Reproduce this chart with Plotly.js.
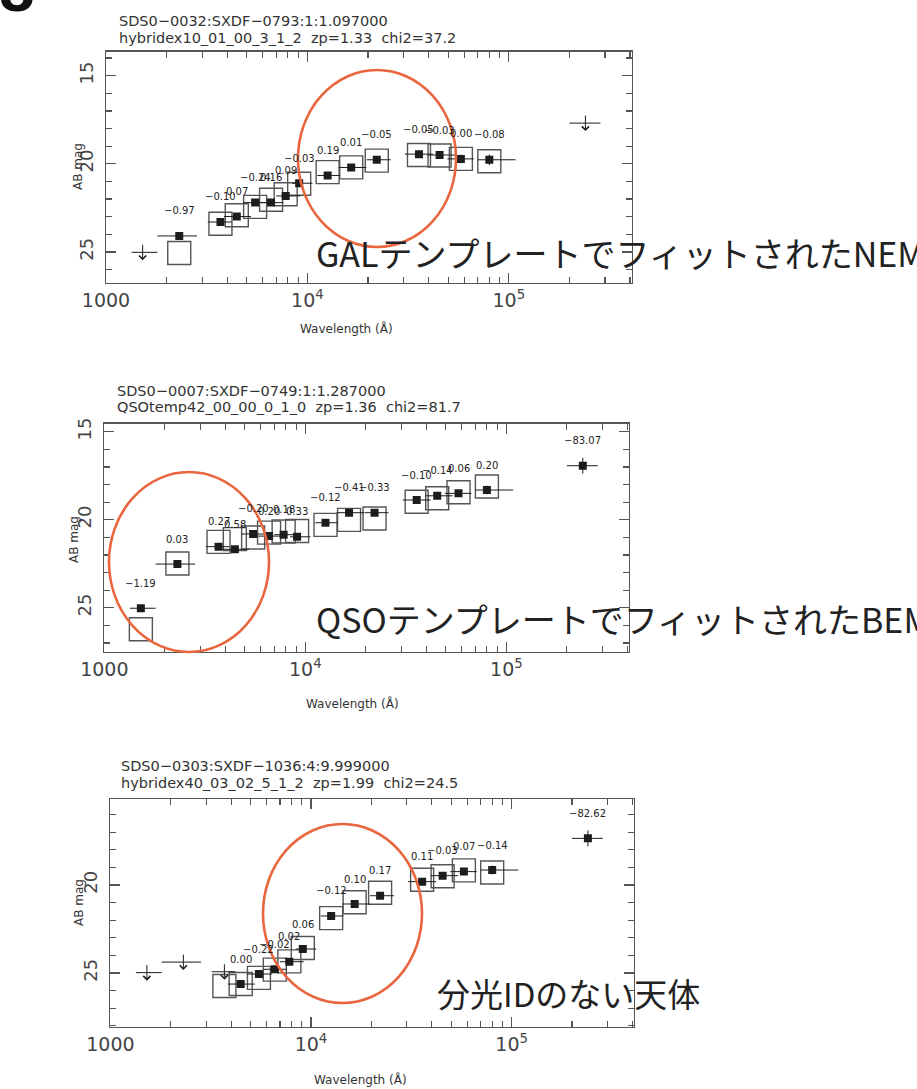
<!DOCTYPE html>
<html>
<head>
<meta charset="utf-8">
<script src="https://cdn.plot.ly/plotly-3.0.1.min.js"></script>
<style>
  html, body { margin: 0; padding: 0; background: #fff; }
  #chart { width: 917px; height: 1089px; }
</style>
</head>
<body>
<div id="chart"></div>
<script>
// Photometric bands shared by all three objects (central wavelength and filter extent, in Angstrom)
const bands    = ['FUV', 'NUV', 'u', 'B', 'V', 'Rc', "i'", "z'", 'J', 'H', 'K', 'IRAC1', 'IRAC2', 'IRAC3', 'IRAC4', 'MIPS24'];
const lambda   = [1520, 2310, 3700, 4460, 5500, 6600, 7800, 9100, 12600, 16500, 22100, 35800, 45300, 57800, 80000, 240000];
const lambdaLo = [1340, 1800, 3200, 3850, 4800, 5800, 7000, 8400, 11200, 14300, 19700, 30500, 39500, 49500, 70000, 200000];
const lambdaHi = [1800, 2830, 4200, 5250, 6400, 7600, 9200, 10600, 14500, 19600, 25900, 42000, 54000, 67000, 108000, 285000];

// Object 1: SDS0-0032 (galaxy template fit)
const obs1   = [null, 24.09, 23.30, 22.99, 22.20, 22.20, 21.82, 21.10, 20.66, 20.21, 19.77, 19.45, 19.50, 19.72, 19.77, null];
const err1   = [null, 0.15, 0.12, 0.10, 0.10, 0.10, 0.10, 0.10, 0.10, 0.10, 0.10, 0.20, 0.20, 0.25, 0.30, null];
const limit1 = [25.02, null, null, null, null, null, null, null, null, null, null, null, null, null, null, 17.69];
const model1 = [null, 25.06, 23.40, 22.92, 22.44, 22.04, 21.73, 21.13, 20.47, 20.20, 19.82, 19.50, 19.53, 19.72, 19.85, null];
const resid1 = [null, '−0.97', '−0.10', '0.07', '−0.24', '0.16', '0.09', '−0.03', '0.19', '0.01', '−0.05', '−0.05', '−0.03', '0.00', '−0.08', null];

// Object 2: SDS0-0007 (QSO template fit)
const obs2   = [25.03, 22.52, 21.53, 21.68, 20.81, 20.93, 20.85, 20.97, 20.17, 19.60, 19.60, 18.88, 18.64, 18.50, 18.31, 16.93];
const err2   = [0.15, 0.10, 0.10, 0.10, 0.10, 0.10, 0.10, 0.10, 0.10, 0.10, 0.10, 0.20, 0.20, 0.20, 0.25, 0.45];
const limit2 = [null, null, null, null, null, null, null, null, null, null, null, null, null, null, null, null];
const model2 = [26.22, 22.49, 21.26, 21.10, 21.01, 20.73, 20.67, 20.64, 20.29, 20.01, 19.93, 18.98, 18.78, 18.44, 18.11, null];
const resid2 = ['−1.19', '0.03', '0.27', '0.58', '−0.20', '0.20', '0.18', '0.33', '−0.12', '−0.41', '−0.33', '−0.10', '−0.14', '0.06', '0.20', '−83.07'];

// Object 3: SDS0-0303 (no spectroscopic ID)
const obs3   = [null, null, null, 25.63, 25.06, 24.79, 24.36, 23.64, 21.76, 21.08, 20.61, 19.81, 19.47, 19.24, 19.15, 17.35];
const err3   = [null, null, null, 0.15, 0.12, 0.12, 0.12, 0.12, 0.10, 0.10, 0.10, 0.20, 0.20, 0.20, 0.25, 0.45];
const limit3 = [24.98, 24.38, 24.93, null, null, null, null, null, null, null, null, null, null, null, null, null];
const model3 = [null, null, 25.74, 25.63, 25.28, 24.81, 24.34, 23.58, 21.88, 20.98, 20.44, 19.70, 19.50, 19.17, 19.29, null];
const resid3 = [null, null, null, '0.00', '−0.22', '−0.02', '0.02', '0.06', '−0.12', '0.10', '0.17', '0.11', '−0.03', '0.07', '−0.14', '−82.62'];

// Header lines of each panel
const head1 = ['SDS0−0032:SXDF−0793:1:1.097000', 'hybridex10_01_00_3_1_2  zp=1.33  chi2=37.2'];
const head2 = ['SDS0−0007:SXDF−0749:1:1.287000', 'QSOtemp42_00_00_0_1_0  zp=1.36  chi2=81.7'];
const head3 = ['SDS0−0303:SXDF−1036:4:9.999000', 'hybridex40_03_02_5_1_2  zp=1.99  chi2=24.5'];

// Axis ticks
const xTickVals  = [1000, 10000, 100000];
const xTickText  = ['1000', '10<sup>4</sup>', '10<sup>5</sup>'];
const xMinorVals = [2000, 3000, 4000, 5000, 6000, 7000, 8000, 9000,
                    20000, 30000, 40000, 50000, 60000, 70000, 80000, 90000,
                    200000, 300000, 400000];
const yTickVals  = [15, 20, 25];

// Callout captions
const captions = ['GALテンプレートでフィットされたNEM', 'QSOテンプレートでフィットされたBEM', '分光IDのない天体'];
const axisLabelX = 'Wavelength (Å)';
const axisLabelY = 'AB mag';

// ---------------------------------------------------------------------------
const W = 917, H = 1089;
const px = v => v / W;          // pixel column -> paper fraction
const py = v => 1 - v / H;      // pixel row    -> paper fraction

const panels = [
  { box: {l: 106, r: 631.7, t: 51.7, b: 283}, yrange: [26.76, 13.64],
    obs: obs1, err: err1, limit: limit1, model: model1, resid: resid1, head: head1,
    headPos: {x: 117, y1: 21, y2: 38}, ylab: {x: 78, y: 167}, xlab: {x: 346, y: 328},
    caption: {text: captions[0], x: 314, y: 253, size: 34},
    ring: {x0: 298, x1: 456, y0: 70, y1: 247} },
  { box: {l: 104.3, r: 629, t: 423.5, b: 651.7}, yrange: [27.5, 14.53],
    obs: obs2, err: err2, limit: limit2, model: model2, resid: resid2, head: head2,
    headPos: {x: 115, y1: 391, y2: 407}, ylab: {x: 74, y: 540}, xlab: {x: 352, y: 703},
    caption: {text: captions[1], x: 314, y: 618, size: 34},
    ring: {x0: 109, x1: 269, y0: 472, y1: 652} },
  { box: {l: 110.4, r: 634, t: 799.3, b: 1027}, yrange: [28.07, 15.13],
    obs: obs3, err: err3, limit: limit3, model: model3, resid: resid3, head: head3,
    headPos: {x: 119, y1: 766, y2: 783}, ylab: {x: 79, y: 903}, xlab: {x: 360, y: 1079},
    caption: {text: captions[2], x: 435, y: 993, size: 33},
    ring: {x0: 263, x1: 422, y0: 824, y1: 1003} }
];

const errPlus  = lambda.map((l, k) => lambdaHi[k] - l);
const errMinus = lambda.map((l, k) => l - lambdaLo[k]);

const axisColor = '#555';
const inkColor = '#1c1c1c';
const data = [];
const annotations = [];
const shapes = [];
const layout = {
  width: W, height: H,
  margin: {l: 0, r: 0, t: 0, b: 0},
  paper_bgcolor: '#fff', plot_bgcolor: '#fff',
  showlegend: false,
  font: {family: 'DejaVu Sans', color: '#333'}
};

panels.forEach((p, i) => {
  const sfx = i === 0 ? '' : String(i + 1);
  const xa = 'x' + sfx, ya = 'y' + sfx;

  layout['xaxis' + sfx] = {
    type: 'log', range: [3, 5.61],
    domain: [px(p.box.l), px(p.box.r)], anchor: ya,
    showline: true, linecolor: axisColor, linewidth: 1.3, mirror: 'allticks',
    ticks: 'inside', ticklen: 10, tickwidth: 1.2, tickcolor: axisColor,
    tickmode: 'array', tickvals: xTickVals, ticktext: xTickText,
    tickfont: {family: 'DejaVu Sans', size: 19, color: '#444'},
    minor: {tickmode: 'array', tickvals: xMinorVals, ticks: 'inside', ticklen: 6, tickwidth: 1.2, tickcolor: axisColor},
    showgrid: false, zeroline: false, fixedrange: true
  };
  layout['yaxis' + sfx] = {
    range: p.yrange,
    domain: [py(p.box.b), py(p.box.t)], anchor: xa,
    showline: true, linecolor: axisColor, linewidth: 1.3, mirror: 'allticks',
    ticks: 'inside', ticklen: 10, tickwidth: 1.2, tickcolor: axisColor,
    tickmode: 'array', tickvals: yTickVals, tickangle: -90, ticklabelstandoff: 5,
    tickfont: {family: 'DejaVu Sans', size: 18, color: '#444'},
    minor: {tickmode: 'linear', tick0: 0, dtick: 1, ticks: 'inside', ticklen: 6, tickwidth: 1.2, tickcolor: axisColor},
    showgrid: false, zeroline: false, fixedrange: true
  };

  // template magnitudes (open boxes)
  data.push({
    type: 'scatter', mode: 'markers', xaxis: xa, yaxis: ya,
    x: lambda, y: p.model,
    marker: {symbol: 'square-open', size: 23, color: '#555', line: {width: 1.4, color: '#555'}},
    hoverinfo: 'skip'
  });

  // observed magnitudes with filter width and photometric error
  data.push({
    type: 'scatter', mode: 'markers', xaxis: xa, yaxis: ya,
    x: lambda, y: p.obs,
    marker: {symbol: 'square', size: 8, color: inkColor},
    error_x: {type: 'data', symmetric: false, array: errPlus, arrayminus: errMinus, width: 0, thickness: 1, color: inkColor},
    error_y: {type: 'data', array: p.err, width: 0, thickness: 1, color: inkColor},
    hoverinfo: 'skip'
  });

  // upper limits: filter bar plus a downward arrow
  data.push({
    type: 'scatter', mode: 'markers', xaxis: xa, yaxis: ya,
    x: lambda, y: p.limit,
    marker: {symbol: 'square', size: 1, color: 'rgba(0,0,0,0)'},
    error_x: {type: 'data', symmetric: false, array: errPlus, arrayminus: errMinus, width: 0, thickness: 1, color: inkColor},
    hoverinfo: 'skip'
  });
  p.limit.forEach((m, k) => {
    if (m === null) return;
    annotations.push({
      xref: xa, yref: ya, x: Math.log10(lambda[k]), y: m,
      text: '', showarrow: true, arrowhead: 4, arrowsize: 1.4, arrowwidth: 1, arrowcolor: inkColor,
      ax: 0, ay: -17, yshift: -8, standoff: 0, startstandoff: 0
    });
  });

  // fit residual above each detection
  p.resid.forEach((t, k) => {
    if (t === null || p.obs[k] === null) return;
    annotations.push({
      xref: xa, yref: ya, x: Math.log10(lambda[k]), y: p.obs[k],
      text: t, showarrow: false, yshift: 25, xanchor: 'center', yanchor: 'middle',
      font: {family: 'DejaVu Sans', size: 10, color: '#222'}
    });
  });

  // header lines
  p.head.forEach((t, k) => {
    annotations.push({
      xref: 'paper', yref: 'paper', x: px(p.headPos.x), y: py(k === 0 ? p.headPos.y1 : p.headPos.y2),
      text: t, showarrow: false, xanchor: 'left', yanchor: 'middle',
      font: {family: 'DejaVu Sans', size: 14.5, color: '#333'}
    });
  });

  // axis captions
  annotations.push({
    xref: 'paper', yref: 'paper', x: px(p.ylab.x), y: py(p.ylab.y),
    text: axisLabelY, showarrow: false, textangle: -90, xanchor: 'center', yanchor: 'middle',
    font: {family: 'DejaVu Sans', size: 12, color: '#333'}
  });
  annotations.push({
    xref: 'paper', yref: 'paper', x: px(p.xlab.x), y: py(p.xlab.y),
    text: axisLabelX, showarrow: false, xanchor: 'center', yanchor: 'middle',
    font: {family: 'DejaVu Sans', size: 12, color: '#333'}
  });

  // Japanese callout and highlight ring
  annotations.push({
    xref: 'paper', yref: 'paper', x: px(p.caption.x), y: py(p.caption.y),
    text: p.caption.text, showarrow: false, xanchor: 'left', yanchor: 'middle',
    font: {family: 'Noto Sans CJK JP', size: p.caption.size, color: '#222'}
  });
  shapes.push({
    type: 'circle', xref: 'paper', yref: 'paper',
    x0: px(p.ring.x0), x1: px(p.ring.x1), y0: py(p.ring.y1), y1: py(p.ring.y0),
    line: {color: '#E9663F', width: 2.6}, fillcolor: 'rgba(0,0,0,0)'
  });
});

// slide number peeking in at the top-left corner
annotations.push({
  xref: 'paper', yref: 'paper', x: px(17), y: py(27),
  text: '8', showarrow: false, xanchor: 'center', yanchor: 'bottom',
  font: {family: 'Liberation Sans', size: 64, color: '#111', weight: 700}
});

layout.annotations = annotations;
layout.shapes = shapes;

Plotly.newPlot('chart', data, layout, {staticPlot: true, displayModeBar: false});
</script>
</body>
</html>
